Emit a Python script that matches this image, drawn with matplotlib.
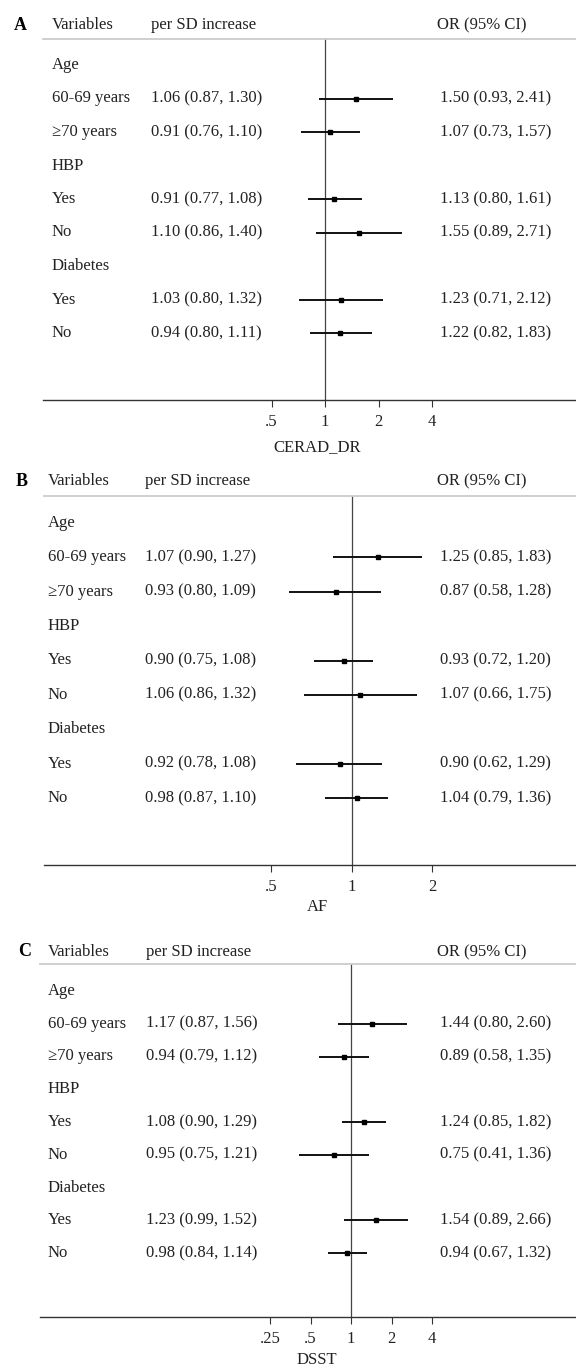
import matplotlib.pyplot as plt
import numpy as np
from matplotlib.transforms import blended_transform_factory

plt.rcParams['font.family'] = ['Liberation Serif', 'DejaVu Serif']

W, H = 576, 1369

# Lignes du tableau (les en-têtes de groupe n'ont pas de valeurs)
row_labels = ["Age", "60-69 years", "\u226570 years", "HBP", "Yes", "No", "Diabetes", "Yes", "No"]
value_rows = [1, 2, 4, 5, 7, 8]

# Panel A : CERAD_DR
sd_a = [1.06, 0.91, 0.91, 1.10, 1.03, 0.94]
sd_a_lo = [0.87, 0.76, 0.77, 0.86, 0.80, 0.80]
sd_a_hi = [1.30, 1.10, 1.08, 1.40, 1.32, 1.11]
or_a = [1.50, 1.07, 1.13, 1.55, 1.23, 1.22]
or_a_lo = [0.93, 0.73, 0.80, 0.89, 0.71, 0.82]
or_a_hi = [2.41, 1.57, 1.61, 2.71, 2.12, 1.83]
ticks_a = [0.5, 1, 2, 4]
tick_labels_a = [".5", "1", "2", "4"]

# Panel B : AF
sd_b = [1.07, 0.93, 0.90, 1.06, 0.92, 0.98]
sd_b_lo = [0.90, 0.80, 0.75, 0.86, 0.78, 0.87]
sd_b_hi = [1.27, 1.09, 1.08, 1.32, 1.08, 1.10]
or_b = [1.25, 0.87, 0.93, 1.07, 0.90, 1.04]
or_b_lo = [0.85, 0.58, 0.72, 0.66, 0.62, 0.79]
or_b_hi = [1.83, 1.28, 1.20, 1.75, 1.29, 1.36]
ticks_b = [0.5, 1, 2]
tick_labels_b = [".5", "1", "2"]

# Panel C : DSST
sd_c = [1.17, 0.94, 1.08, 0.95, 1.23, 0.98]
sd_c_lo = [0.87, 0.79, 0.90, 0.75, 0.99, 0.84]
sd_c_hi = [1.56, 1.12, 1.29, 1.21, 1.52, 1.14]
or_c = [1.44, 0.89, 1.24, 0.75, 1.54, 0.94]
or_c_lo = [0.80, 0.58, 0.85, 0.41, 0.89, 0.67]
or_c_hi = [2.60, 1.35, 1.82, 1.36, 2.66, 1.32]
ticks_c = [0.25, 0.5, 1, 2, 4]
tick_labels_c = [".25", ".5", "1", "2", "4"]

FS = 12
TXT = '#222222'


def fmt(e, lo, hi):
    return f"{e:.2f} ({lo:.2f}, {hi:.2f})"


# Dessin d'un panneau, positions en pixels de l'image
def panel(fig, letter, name, sd, sd_lo, sd_hi, orv, or_lo, or_hi, ticks, tick_labels,
          head_y, line_y, first_y, last_y, axis_y, label_y,
          left, one_x, dbl, x_letter, x_var, x_sd, x_or):
    spacing = (last_y - first_y) / 8
    ax = fig.add_axes([left / W, 1 - axis_y / H, (W - left) / W, (axis_y - line_y) / H])
    ax.set_xscale('log')
    ax.set_xlim(2 ** ((left - one_x) / dbl), 2 ** ((W - one_x) / dbl))
    ax.set_ylim((axis_y - first_y) / spacing, (line_y - first_y) / spacing)

    for s in ['left', 'right']:
        ax.spines[s].set_visible(False)
    ax.spines['top'].set_color('#cccccc')
    ax.spines['top'].set_linewidth(1.3)
    ax.spines['bottom'].set_color('#333333')
    ax.spines['bottom'].set_linewidth(1.0)
    ax.set_yticks([])
    ax.set_xticks(ticks)
    ax.set_xticklabels(tick_labels)
    ax.xaxis.set_minor_locator(plt.NullLocator())
    ax.tick_params(axis='x', length=5, width=0.8, color='#333333', labelsize=FS,
                   labelcolor=TXT, pad=5)

    ax.axvline(1, color='#444444', lw=0.9, zorder=1)
    ax.hlines(value_rows, or_lo, or_hi, color='#111111', lw=1.4, zorder=2)
    ax.plot(orv, value_rows, 's', ms=3.5, color='black', zorder=3)

    trans = blended_transform_factory(fig.transFigure, ax.transData)
    for i, lab in enumerate(row_labels):
        ax.text(x_var / W, i, lab, transform=trans, va='center', ha='left',
                fontsize=FS, color=TXT, clip_on=False)
    for k, r in enumerate(value_rows):
        ax.text(x_sd / W, r, fmt(sd[k], sd_lo[k], sd_hi[k]), transform=trans,
                va='center', ha='left', fontsize=FS, color=TXT, clip_on=False)
        ax.text(x_or / W, r, fmt(orv[k], or_lo[k], or_hi[k]), transform=trans,
                va='center', ha='left', fontsize=FS, color=TXT, clip_on=False)

    yh = 1 - head_y / H
    fig.text(x_letter / W, yh, letter, fontsize=13, fontweight='bold', va='center', ha='center', color='black')
    fig.text(x_var / W, yh, "Variables", fontsize=FS, va='center', ha='left', color=TXT)
    fig.text(x_sd / W, yh, "per SD increase", fontsize=FS, va='center', ha='left', color=TXT)
    fig.text((x_or - 3) / W, yh, "OR (95% CI)", fontsize=FS, va='center', ha='left', color=TXT)
    fig.text(317 / W, 1 - label_y / H, name, fontsize=FS, va='center', ha='center', color=TXT)
    return ax


fig = plt.figure(figsize=(W / 100, H / 100), dpi=100)

panel(fig, "A", "CERAD_DR", sd_a, sd_a_lo, sd_a_hi, or_a, or_a_lo, or_a_hi, ticks_a, tick_labels_a,
      head_y=25, line_y=39, first_y=65, last_y=333, axis_y=400, label_y=447,
      left=43, one_x=325, dbl=53.5, x_letter=20, x_var=52, x_sd=151, x_or=440)
panel(fig, "B", "AF", sd_b, sd_b_lo, sd_b_hi, or_b, or_b_lo, or_b_hi, ticks_b, tick_labels_b,
      head_y=481, line_y=496, first_y=523, last_y=798, axis_y=865, label_y=907,
      left=44, one_x=352, dbl=80.5, x_letter=22, x_var=48, x_sd=145, x_or=440)
panel(fig, "C", "DSST", sd_c, sd_c_lo, sd_c_hi, or_c, or_c_lo, or_c_hi, ticks_c, tick_labels_c,
      head_y=952, line_y=964, first_y=991, last_y=1253, axis_y=1317, label_y=1360,
      left=40, one_x=351, dbl=40.5, x_letter=25, x_var=48, x_sd=146, x_or=440)

fig.savefig("out.png", dpi=100)
